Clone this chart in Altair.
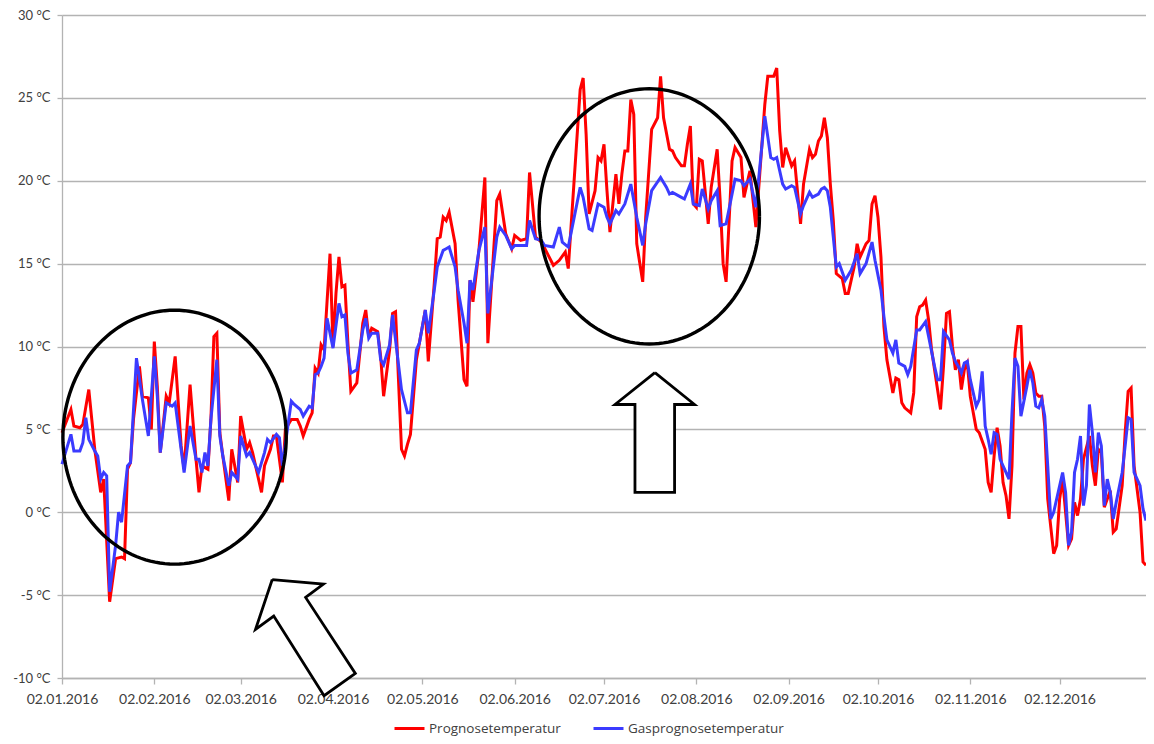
import altair as alt
import numpy as np
import pandas as pd

START = pd.Timestamp("2016-01-02")

SERIES = ["Prognosetemperatur", "Gasprognosetemperatur"]
COLORS = ["#ff0000", "#3b3bff"]

# day offsets from 02.01.2016 and temperatures (°C)
RED_DAY = [0, 3, 4, 6, 7, 9, 10, 11, 13, 14, 16, 18, 20, 21, 22, 23, 24, 26, 27, 29,
           30, 31, 32, 33, 35, 36, 38, 40, 41, 43, 45, 46, 47, 49, 50, 51, 52, 53, 54, 56,
           57, 59, 60, 62, 63, 64, 67, 68, 70, 71, 72, 74, 75, 77, 79, 80, 81, 83, 84, 85,
           86, 87, 88, 90, 91, 92, 93, 94, 95, 96, 97, 99, 101, 102, 103, 104, 106, 107, 108, 110,
           111, 112, 114, 115, 116, 117, 119, 120, 122, 123, 125, 126, 127, 128, 129, 130, 132, 133, 135, 136,
           137, 138, 140, 142, 143, 146, 147, 149, 151, 152, 154, 156, 157, 159, 161, 163, 165, 167, 169, 170,
           174, 175, 176, 177, 179, 180, 181, 182, 183, 184, 186, 187, 188, 189, 190, 191, 192, 193, 195, 196,
           198, 200, 201, 202, 204, 205, 206, 208, 209, 210, 211, 212, 213, 214, 215, 217, 218, 220, 221, 222,
           223, 225, 226, 228, 229, 231, 233, 236, 237, 239, 240, 241, 242, 243, 245, 246, 248, 249, 251, 252,
           253, 254, 255, 256, 257, 258, 259, 260, 262, 263, 264, 266, 267, 268, 270, 271, 272, 273, 274, 275,
           276, 277, 279, 280, 281, 282, 283, 285, 286, 287, 288, 289, 290, 291, 292, 294, 295, 296, 297, 298,
           299, 300, 301, 302, 303, 304, 305, 307, 308, 310, 311, 312, 313, 314, 315, 316, 317, 318, 319, 320,
           321, 322, 323, 324, 325, 326, 327, 328, 329, 330, 331, 333, 334, 335, 336, 337, 338, 339, 340, 341,
           342, 343, 345, 346, 347, 348, 349, 350, 351, 352, 353, 354, 356, 357, 358, 359, 360, 361, 362, 363,
           364]
RED_VAL = [4.8, 6.2, 5.2, 5.1, 5.3, 7.4, 5.6, 3.8, 1.2, 2.0, -5.4, -2.8, -2.7, -2.8, 2.6, 3.0, 5.6, 8.8, 7.0, 6.9,
           5.0, 10.3, 7.6, 3.6, 7.0, 6.6, 9.4, 4.0, 2.6, 7.7, 3.2, 1.2, 2.8, 2.6, 5.6, 10.6, 10.8, 4.8, 3.4, 0.7,
           3.8, 1.8, 5.8, 3.8, 4.2, 3.6, 1.2, 2.8, 3.8, 4.6, 4.6, 1.8, 5.0, 5.6, 5.6, 5.2, 4.6, 5.6, 6.0, 8.7,
           8.4, 10.1, 9.8, 15.6, 10.0, 13.2, 15.4, 13.6, 13.7, 10.2, 7.3, 7.8, 11.4, 12.2, 10.6, 11.1, 10.9, 9.4, 7.0, 9.8,
           12.0, 12.1, 3.8, 3.4, 4.1, 4.7, 9.2, 10.2, 12.2, 9.1, 13.8, 16.5, 16.6, 17.8, 17.6, 18.1, 16.2, 12.8, 8.0, 7.6,
           14.0, 12.7, 15.8, 20.2, 10.2, 18.8, 19.2, 16.8, 15.9, 16.7, 16.4, 16.5, 20.5, 16.6, 16.3, 15.6, 14.9, 15.2, 15.7, 14.7,
           25.5, 26.2, 22.8, 18.0, 19.4, 21.4, 21.2, 22.2, 19.4, 16.9, 20.4, 18.6, 20.4, 21.8, 21.8, 24.9, 24.0, 16.2, 13.9, 17.8,
           23.1, 23.8, 26.3, 23.8, 21.9, 21.8, 21.4, 20.9, 20.9, 22.2, 23.3, 18.6, 18.4, 21.3, 21.2, 17.4, 19.6, 21.9, 18.8, 15.0,
           13.9, 21.2, 22.0, 21.4, 19.0, 20.6, 17.2, 24.6, 26.3, 26.3, 26.8, 23.0, 20.8, 22.0, 20.9, 21.2, 17.4, 19.8, 21.9, 21.4,
           21.6, 22.4, 22.7, 23.8, 22.6, 19.8, 17.6, 14.4, 14.1, 13.2, 13.2, 14.8, 16.2, 15.4, 16.2, 16.4, 18.6, 19.1, 17.8, 15.4,
           11.2, 9.2, 7.2, 8.1, 8.0, 6.6, 6.3, 6.0, 7.2, 11.8, 12.4, 12.5, 12.8, 11.6, 9.8, 7.4, 6.2, 8.8, 12.0, 12.1,
           10.0, 8.6, 9.2, 7.4, 8.6, 9.0, 7.0, 5.0, 4.8, 3.8, 1.8, 1.2, 3.4, 5.1, 4.0, 1.8, 1.0, -0.4, 2.8, 9.6,
           11.2, 11.2, 6.8, 8.4, 8.9, 8.4, 7.2, 7.0, 7.0, 5.2, 0.8, -2.5, -2.0, 0.8, 2.0, 0.0, -2.0, -1.6, 0.6, -0.2,
           0.8, 3.2, 4.6, 2.8, 1.6, 3.8, 3.6, 0.3, 0.8, 1.3, -1.2, -1.0, 1.6, 4.8, 7.3, 7.5, 2.8, 1.4, 0.0, -3.0,
           -3.2]

BLUE_DAY = [0, 3, 4, 6, 7, 8, 9, 11, 12, 13, 14, 15, 16, 18, 19, 20, 22, 23, 25, 27,
            29, 31, 32, 33, 35, 37, 38, 40, 41, 43, 45, 46, 47, 48, 49, 50, 52, 53, 54, 56,
            57, 59, 60, 62, 63, 64, 66, 68, 69, 70, 72, 73, 74, 77, 78, 80, 81, 83, 84, 85,
            86, 87, 88, 89, 91, 93, 94, 95, 96, 97, 99, 101, 102, 103, 104, 106, 107, 108, 110, 111,
            114, 116, 117, 119, 120, 122, 123, 125, 126, 128, 129, 130, 132, 133, 135, 136, 137, 138, 140, 142,
            143, 146, 147, 149, 151, 152, 154, 156, 157, 159, 161, 162, 165, 167, 168, 170, 174, 175, 177, 178,
            180, 182, 183, 184, 186, 187, 189, 191, 193, 195, 196, 198, 201, 203, 204, 205, 208, 209, 211, 212,
            214, 215, 217, 218, 220, 221, 223, 226, 228, 229, 231, 233, 236, 238, 239, 240, 242, 243, 245, 246,
            248, 249, 251, 252, 253, 254, 255, 256, 257, 258, 259, 260, 261, 263, 265, 267, 268, 270, 272, 273,
            275, 276, 277, 279, 280, 281, 283, 284, 285, 287, 288, 290, 291, 293, 294, 295, 296, 298, 299, 300,
            301, 302, 303, 304, 305, 307, 308, 309, 310, 311, 312, 313, 314, 315, 316, 318, 319, 320, 321, 322,
            324, 325, 326, 327, 328, 329, 330, 331, 332, 333, 335, 336, 337, 338, 339, 340, 341, 342, 343, 344,
            345, 346, 347, 348, 349, 350, 351, 352, 353, 354, 356, 357, 358, 359, 360, 362, 363, 364]
BLUE_VAL = [2.9, 4.7, 3.7, 3.7, 4.2, 5.7, 4.4, 3.7, 3.4, 2.0, 2.4, 2.2, -4.8, -2.0, 0.0, -0.6, 2.8, 3.0, 9.3, 6.8,
            4.6, 9.4, 7.0, 3.6, 6.6, 6.4, 6.6, 3.8, 2.4, 5.2, 3.2, 3.2, 2.4, 3.6, 2.8, 5.6, 9.2, 4.6, 3.4, 1.6,
            2.4, 2.0, 4.6, 3.4, 3.6, 3.2, 2.4, 3.6, 4.4, 4.2, 4.7, 4.5, 2.8, 6.7, 6.5, 6.2, 5.8, 6.4, 6.3, 8.3,
            8.4, 8.8, 9.3, 11.7, 9.9, 12.6, 11.8, 11.9, 9.6, 8.4, 8.6, 11.0, 11.7, 10.5, 10.8, 10.8, 9.2, 8.9, 10.1, 11.9,
            7.4, 6.0, 6.0, 9.8, 10.2, 12.2, 10.8, 13.4, 14.8, 15.8, 15.9, 16.0, 14.8, 13.4, 11.4, 10.2, 14.0, 13.4, 15.8, 17.2,
            12.0, 16.6, 17.2, 16.7, 15.9, 16.1, 16.1, 16.1, 17.6, 16.5, 16.4, 16.1, 16.0, 17.2, 16.3, 16.0, 19.6, 19.0, 17.1, 17.0,
            18.6, 18.4, 17.8, 17.4, 18.2, 18.0, 18.6, 19.8, 17.8, 16.1, 17.4, 19.4, 20.2, 19.6, 19.2, 19.3, 19.0, 18.9, 19.8, 18.6,
            18.5, 19.5, 18.3, 18.8, 19.4, 17.3, 17.4, 20.1, 20.0, 19.7, 20.1, 18.4, 23.9, 21.4, 21.3, 21.4, 19.8, 19.5, 19.7, 19.6,
            18.0, 18.5, 19.3, 19.0, 19.1, 19.2, 19.5, 19.6, 19.4, 18.4, 16.6, 14.8, 15.0, 14.0, 14.6, 15.6, 14.4, 15.0, 16.3, 15.2,
            13.4, 11.8, 10.4, 9.6, 10.4, 9.0, 8.8, 8.3, 8.8, 11.0, 11.0, 11.5, 10.6, 8.8, 8.0, 8.0, 10.9, 10.4, 9.6, 9.1,
            8.8, 8.4, 9.0, 9.1, 8.0, 6.4, 6.8, 8.5, 5.2, 4.4, 3.5, 4.8, 4.7, 3.2, 2.8, 2.0, 6.0, 9.3, 8.8, 5.8,
            7.6, 8.6, 7.8, 6.4, 6.3, 6.8, 5.8, 2.8, -0.4, 0.0, 1.6, 2.4, 1.2, -2.0, -1.2, 2.4, 3.2, 4.6, 0.4, 1.6,
            6.5, 4.8, 2.4, 4.8, 4.0, 0.4, 2.0, 1.2, -0.4, 0.6, 2.4, 4.0, 5.7, 5.6, 2.4, 1.6, 0.2, -0.5]

TICK_DATES = ["2016-01-02", "2016-02-02", "2016-03-02", "2016-04-02", "2016-05-02", "2016-06-02",
              "2016-07-02", "2016-08-02", "2016-09-02", "2016-10-02", "2016-11-02", "2016-12-02"]
Y_TICKS = [-10, -5, 0, 5, 10, 15, 20, 25, 30]

# annotations in data units (day offset, °C)
ELLIPSE_CX = [37.8, 197.2]
ELLIPSE_CY = [4.53, 17.85]
ELLIPSE_RX = [37.5, 37.0]
ELLIPSE_RY = [7.66, 7.70]

ARROW1_DAY = [70.6, 87.8, 81.8, 98.5, 88.0, 71.1, 65.0, 70.6]
ARROW1_VAL = [-4.06, -4.33, -5.14, -9.72, -11.07, -6.26, -7.06, -4.06]
ARROW2_DAY = [199.1, 212.4, 205.7, 205.7, 192.4, 192.4, 185.7, 199.1]
ARROW2_VAL = [8.42, 6.50, 6.50, 1.20, 1.20, 6.50, 6.50, 8.42]

FONT = "Lato"
LEGEND_FONT = "Open Sans"
TEXT = "#404040"
GRID = "#b3b3b3"


def to_date(days):
    return START + pd.to_timedelta(np.asarray(days, dtype=float), unit="D")


red = pd.DataFrame({"date": to_date(RED_DAY), "temp": RED_VAL, "series": SERIES[0]})
blue = pd.DataFrame({"date": to_date(BLUE_DAY), "temp": BLUE_VAL, "series": SERIES[1]})

ell_rows = []
t = np.linspace(0, 2 * np.pi, 145)
for k in range(len(ELLIPSE_CX)):
    d = ELLIPSE_CX[k] + ELLIPSE_RX[k] * np.cos(t)
    v = ELLIPSE_CY[k] + ELLIPSE_RY[k] * np.sin(t)
    ell_rows.append(pd.DataFrame({"date": to_date(d), "temp": v, "shape": k, "idx": np.arange(len(t))}))
ell = pd.concat(ell_rows, ignore_index=True)

arr = pd.concat([
    pd.DataFrame({"date": to_date(ARROW1_DAY), "temp": ARROW1_VAL, "shape": 0, "idx": range(len(ARROW1_DAY))}),
    pd.DataFrame({"date": to_date(ARROW2_DAY), "temp": ARROW2_VAL, "shape": 1, "idx": range(len(ARROW2_DAY))}),
], ignore_index=True)

x_scale = alt.Scale(domain=[alt.DateTime(year=2016, month=1, date=2), alt.DateTime(year=2016, month=12, date=31)])
y_scale = alt.Scale(domain=[-10, 30], nice=False, zero=False)

x_axis = alt.Axis(
    values=[alt.DateTime(year=int(s[:4]), month=int(s[5:7]), date=int(s[8:])) for s in TICK_DATES],
    format="%d.%m.%Y", title=None, grid=False, domainColor=GRID, domainWidth=1.3,
    tickColor=GRID, tickSize=6, tickWidth=1.3, labelFont=FONT, labelFontSize=14, labelColor=TEXT,
    labelPadding=8, labelFlush=False, labelOverlap=False,
)
y_axis = alt.Axis(
    values=Y_TICKS, labelExpr="datum.value + ' °C'", title=None, grid=True, gridColor=GRID,
    gridWidth=1.3, domainColor=GRID, domainWidth=1.3, tickColor=GRID, tickSize=5, tickWidth=1.3,
    labelFont=FONT, labelFontSize=13, labelColor=TEXT, labelPadding=7,
)


def xy():
    return dict(
        x=alt.X("date:T", scale=x_scale, axis=x_axis),
        y=alt.Y("temp:Q", scale=y_scale, axis=y_axis),
    )


color = alt.Color(
    "series:N",
    scale=alt.Scale(domain=SERIES, range=COLORS),
    legend=alt.Legend(
        title=None, orient="none", direction="horizontal", legendX=331, legendY=697,
        symbolType="stroke", symbolStrokeWidth=3, symbolSize=900, labelFont=LEGEND_FONT,
        labelFontSize=13.5, labelColor=TEXT, columnPadding=26, labelOffset=3,
    ),
)

red_line = alt.Chart(red).mark_line(strokeWidth=3).encode(**xy(), color=color)
blue_line = alt.Chart(blue).mark_line(strokeWidth=3).encode(**xy(), color=color)

ell_layer = alt.Chart(ell).mark_line(color="black", strokeWidth=3.4).encode(
    **xy(), detail="shape:N", order="idx:Q"
)
arr_layer = alt.Chart(arr).mark_line(stroke="black", fill="white", strokeWidth=2.8, strokeJoin="miter").encode(
    **xy(), detail="shape:N", order="idx:Q"
)

chart = alt.layer(red_line, blue_line, ell_layer, arr_layer).properties(
    width=1084, height=663,
    padding={"left": 54, "top": 7, "right": 0, "bottom": 58},
    autosize=alt.AutoSizeParams(type="none"),
    background="white",
).configure_view(strokeWidth=0)

chart.save("out.html", embed_options={"renderer": "svg", "actions": False})
